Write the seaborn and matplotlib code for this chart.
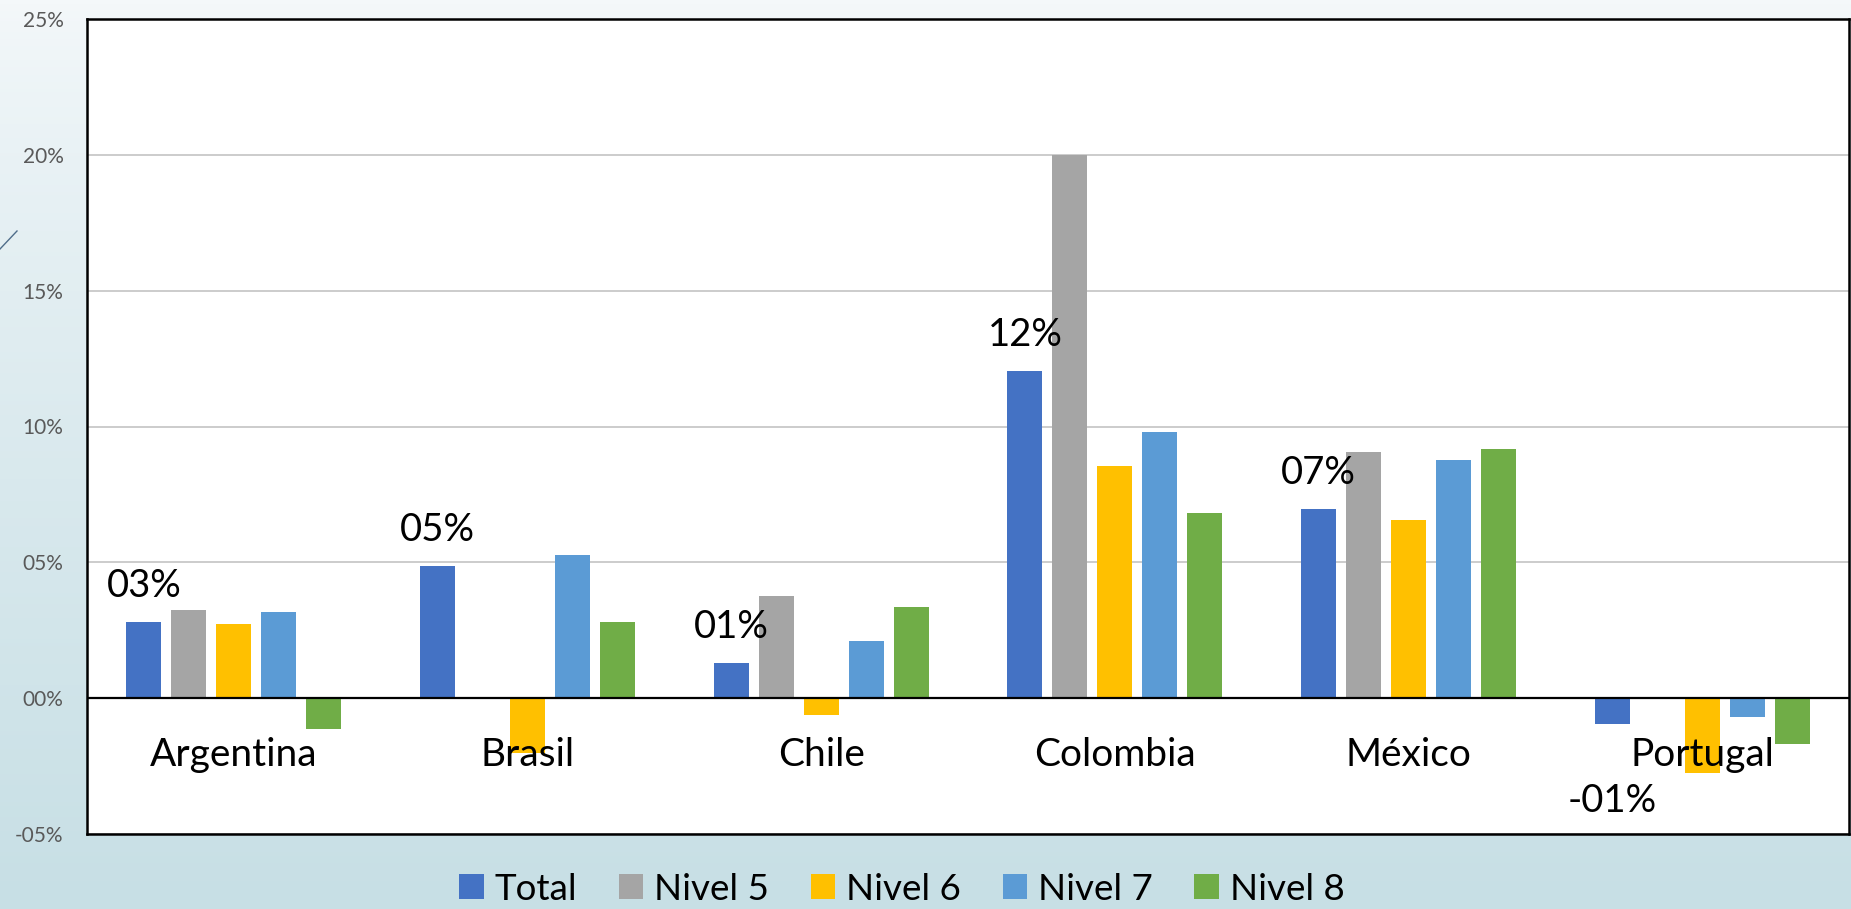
import numpy as np
import pandas as pd
import matplotlib.pyplot as plt
import seaborn as sns
from matplotlib.lines import Line2D

# datos (variación en %)
paises = ['Argentina', 'Brasil', 'Chile', 'Colombia', 'México', 'Portugal']
series = ['Total', 'Nivel 5', 'Nivel 6', 'Nivel 7', 'Nivel 8']
total = [2.79, 4.87, 1.28, 12.04, 6.97, -0.94]
nivel_5 = [3.24, 0.0, 3.77, 20.0, 9.07, 0.0]   # Brasil y Portugal sin dato
nivel_6 = [2.73, -2.02, -0.63, 8.56, 6.57, -2.75]
nivel_7 = [3.19, 5.26, 2.09, 9.79, 8.75, -0.70]
nivel_8 = [-1.12, 2.82, 3.36, 6.83, 9.18, -1.69]
ticks_y = [-5, 0, 5, 10, 15, 20, 25]

cores = ['#4472C4', '#A5A5A5', '#FFC000', '#5B9BD5', '#70AD47']

df = pd.DataFrame({'País': paises, 'Total': total, 'Nivel 5': nivel_5,
                   'Nivel 6': nivel_6, 'Nivel 7': nivel_7, 'Nivel 8': nivel_8})
df_long = df.melt(id_vars='País', var_name='Serie', value_name='Valor')


def fmt_pct(v):
    # formato tipo "00%" como en el original
    r = int(round(v))
    signo = '-' if r < 0 else ''
    return f'{signo}{abs(r):02d}%'


plt.rcParams['font.family'] = ['Lato', 'DejaVu Sans']

fig = plt.figure(figsize=(18.51, 9.09), dpi=100)

# fondo degradado
bg = fig.add_axes([0, 0, 1, 1], zorder=-10)
grad = np.linspace(0, 1, 256).reshape(-1, 1)
top = np.array([0xF4, 0xF8, 0xFA]) / 255
bottom = np.array([0xC7, 0xDF, 0xE5]) / 255
img = top + (bottom - top) * grad[:, :, None] ** 0.8
bg.imshow(img, aspect='auto', extent=[0, 1, 0, 1])
bg.axis('off')
fig.add_artist(Line2D([0, 17 / 1851], [1 - 249 / 909, 1 - 231 / 909],
                      color='#4F6D8A', lw=1))

ax = fig.add_axes([87 / 1851, 75 / 909, 1762 / 1851, 815 / 909])
ax.set_facecolor('white')

sns.barplot(data=df_long, x='País', y='Valor', hue='Serie', order=paises,
            hue_order=series, palette=cores, saturation=1, width=0.766,
            gap=0.22, linewidth=0, ax=ax)

ax.set_ylim(-5, 25)
ax.set_yticks(ticks_y)
ax.set_yticklabels([fmt_pct(t) for t in ticks_y])
ax.tick_params(axis='y', length=0, pad=17, labelsize=15, labelcolor='#595959')
ax.set_xticks(range(len(paises)))
ax.set_xticklabels([])
ax.tick_params(axis='x', length=0)
ax.set_xlabel('')
ax.set_ylabel('')
ax.yaxis.grid(True, color='#BFBFBF', lw=1.1)
ax.set_axisbelow(True)
ax.axhline(0, color='black', lw=1.6, zorder=2)
for s in ax.spines.values():
    s.set_color('black')
    s.set_linewidth(1.8)

# nombres de países justo debajo del eje 0
for i, p in enumerate(paises):
    ax.annotate(p, xy=(i, 0), xytext=(0, -41), textcoords='offset points',
                ha='center', va='center', fontsize=28, color='black')

# etiquetas solo para la serie Total
for bar, v in zip(ax.containers[0], total):
    x = bar.get_x() + bar.get_width() / 2
    dy = 26 if v >= 0 else -56
    ax.annotate(fmt_pct(v), xy=(x, v), xytext=(0, dy), textcoords='offset points',
                ha='center', va='center', fontsize=27.5, color='black')

handles, labels = ax.get_legend_handles_labels()
ax.get_legend().remove()
fig.legend(handles, labels, loc='center', bbox_to_anchor=(902 / 1851, 20 / 909),
           ncol=5, frameon=False, fontsize=26.5, handlelength=0.67,
           handleheight=0.65, handletextpad=0.3, columnspacing=1.12,
           borderpad=0.1)

fig.savefig('out.png', dpi=100)
